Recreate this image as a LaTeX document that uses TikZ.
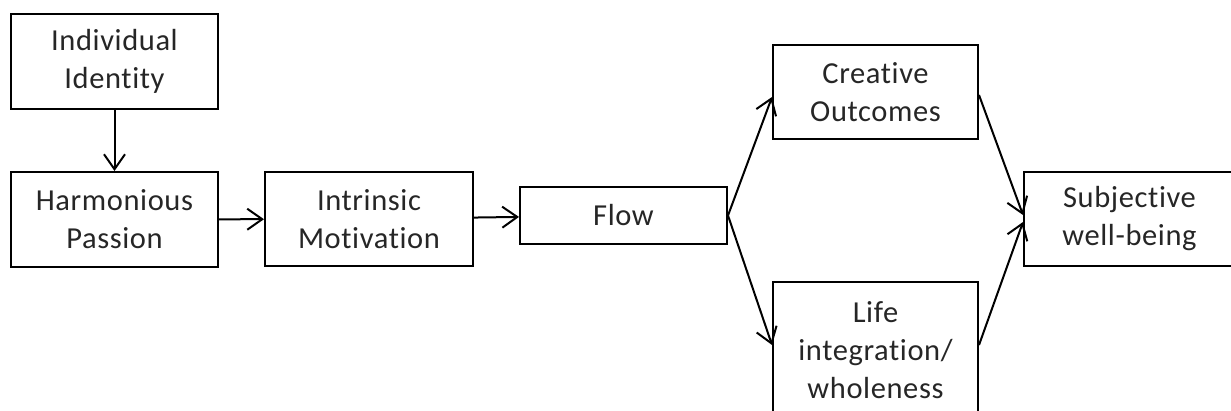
\documentclass[tikz,border=0pt]{standalone}
\usepackage{fontspec}
\setmainfont{Carlito}[Ligatures=NoCommon,LetterSpace=2]
\usetikzlibrary{arrows.meta,calc}
\begin{document}
\begin{tikzpicture}[x=1pt,y=-1pt,
  box/.style={draw=black,line width=2pt,align=center,inner sep=0pt,
    font=\fontsize{30.5}{38}\selectfont,text=black!85},
  conn/.style={line width=2pt,-{Straight Barb[length=15pt,width=21pt,line width=2pt]}}]
\useasboundingbox (0,0) rectangle (1231,411);
\clip (0,0) rectangle (1231,411);
\node[box,minimum width=207pt,minimum height=95pt] (ind) at (114.5,61.5) {Individual\\Identity};
\node[box,minimum width=207pt,minimum height=95pt] (hp) at (114.5,219.5) {Harmonious\\Passion};
\node[box,minimum width=208pt,minimum height=94pt] (im) at (369,219) {Intrinsic\\Motivation};
\node[box,minimum width=207pt,minimum height=57pt] (flow) at (623.5,215.5) {Flow};
\node[box,minimum width=205pt,minimum height=94pt] (co) at (875.5,92) {Creative\\Outcomes};
\node[box,minimum width=205pt,minimum height=136pt] (li) at (875.5,350) {Life\\integration/\\wholeness};
\node[box,minimum width=211pt,minimum height=94pt] (sw) at (1129.5,219) {Subjective\\well-being};
\draw[conn] (ind) -- (hp);
\draw[conn] (hp) -- (im);
\draw[conn] (im) -- (flow);
\draw[conn] (flow.east) -- ($(co.west)+(0,5)$);
\draw[conn] (flow.east) -- ($(li.west)+(0,-5)$);
\draw[conn] ($(co.east)+(0,3)$) -- ($(sw.west)+(0,-4)$);
\draw[conn] ($(li.east)+(0,-5)$) -- ($(sw.west)+(0,3)$);
\end{tikzpicture}
\end{document}
